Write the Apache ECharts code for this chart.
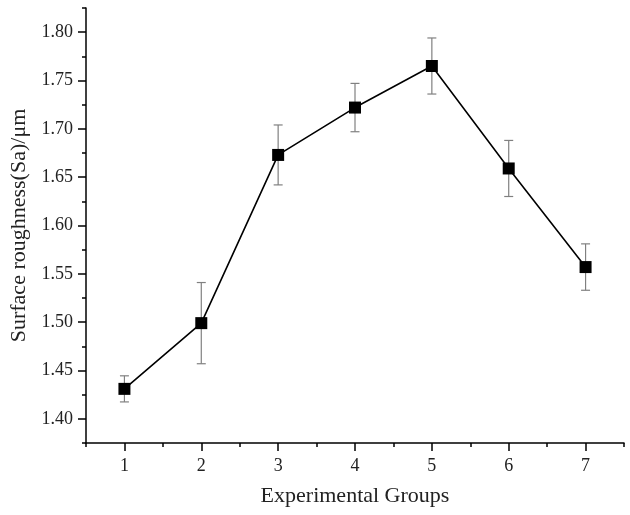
<!DOCTYPE html>
<html>
<head>
<meta charset="utf-8">
<script src="https://cdn.jsdelivr.net/npm/echarts@6/dist/echarts.min.js"></script>
<style>
  html, body { margin: 0; padding: 0; background: #fff; }
  #main { width: 630px; height: 515px; }
</style>
</head>
<body>
<div id="main"></div>
<script>
// groups and measured Sa values (with +- error)
var groups = [1, 2, 3, 4, 5, 6, 7]
var roughness = [1.431, 1.499, 1.673, 1.722, 1.765, 1.659, 1.557]
var errors = [0.0135, 0.042, 0.031, 0.025, 0.029, 0.029, 0.024]

// tick labels
var yMajorTicks = [1.40, 1.45, 1.50, 1.55, 1.60, 1.65, 1.70, 1.75, 1.80]
var yMinorTicks = [1.375, 1.425, 1.475, 1.525, 1.575, 1.625, 1.675, 1.725, 1.775, 1.825]
var xMajorTicks = [1, 2, 3, 4, 5, 6, 7]
var xMinorTicks = [0.5, 1.5, 2.5, 3.5, 4.5, 5.5, 6.5, 7.5]

var chart = echarts.init(document.getElementById('main'))

var serif = 'Liberation Serif'
var lineData = groups.map(function (g, i) { return [g, roughness[i]] })
var errData = groups.map(function (g, i) {
  return [g, roughness[i] - errors[i], roughness[i] + errors[i]]
})

function axisBase (min, max) {
  return {
    type: 'value',
    min: min,
    max: max,
    splitLine: { show: false },
    axisLine: { onZero: false, lineStyle: { color: '#000', width: 1.5 } }
  }
}

var option = {
  backgroundColor: '#fff',
  animation: false,
  grid: { left: 86, right: 6, top: 8, bottom: 72 },
  xAxis: [
    Object.assign(axisBase(0.5, 7.5), {
      position: 'bottom',
      name: 'Experimental Groups',
      nameLocation: 'middle',
      nameGap: 42,
      nameTextStyle: { fontFamily: serif, fontSize: 22, color: '#222' },
      axisTick: { customValues: xMajorTicks, length: 8, lineStyle: { color: '#000', width: 1.5 } },
      axisLabel: {
        customValues: xMajorTicks,
        margin: 14,
        fontFamily: serif, fontSize: 18, color: '#222'
      }
    }),
    Object.assign(axisBase(0.5, 7.5), {
      position: 'bottom',
      axisLine: { show: false },
      axisTick: { customValues: xMinorTicks, length: 4, lineStyle: { color: '#000', width: 1.5 } },
      axisLabel: { show: false }
    })
  ],
  yAxis: [
    Object.assign(axisBase(1.375, 1.825), {
      position: 'left',
      name: 'Surface roughness(Sa)/μm',
      nameLocation: 'middle',
      nameGap: 48,
      nameTextStyle: { fontFamily: serif, fontSize: 22, color: '#222' },
      axisTick: { customValues: yMajorTicks, length: 8, lineStyle: { color: '#000', width: 1.5 } },
      axisLabel: {
        customValues: yMajorTicks,
        margin: 13,
        formatter: function (v) { return v.toFixed(2) },
        fontFamily: serif, fontSize: 18, color: '#222'
      }
    }),
    Object.assign(axisBase(1.375, 1.825), {
      position: 'left',
      axisLine: { show: false },
      axisTick: { customValues: yMinorTicks, length: 4, lineStyle: { color: '#000', width: 1.5 } },
      axisLabel: { show: false }
    })
  ],
  series: [
    {
      name: 'error',
      type: 'custom',
      xAxisIndex: 0,
      yAxisIndex: 0,
      z: 1,
      renderItem: function (params, api) {
        var x = api.value(0)
        var lo = api.coord([x, api.value(1)])
        var hi = api.coord([x, api.value(2)])
        var half = 4.5
        var style = { stroke: '#808080', lineWidth: 1.2 }
        return {
          type: 'group',
          children: [
            { type: 'line', shape: { x1: lo[0], y1: lo[1], x2: hi[0], y2: hi[1] }, style: style },
            { type: 'line', shape: { x1: hi[0] - half, y1: hi[1], x2: hi[0] + half, y2: hi[1] }, style: style },
            { type: 'line', shape: { x1: lo[0] - half, y1: lo[1], x2: lo[0] + half, y2: lo[1] }, style: style }
          ]
        }
      },
      data: errData
    },
    {
      name: 'Sa',
      type: 'line',
      xAxisIndex: 0,
      yAxisIndex: 0,
      z: 3,
      symbol: 'rect',
      symbolSize: 12,
      itemStyle: { color: '#000' },
      lineStyle: { color: '#000', width: 1.6 },
      data: lineData
    }
  ]
}

chart.setOption(option)
</script>
</body>
</html>
